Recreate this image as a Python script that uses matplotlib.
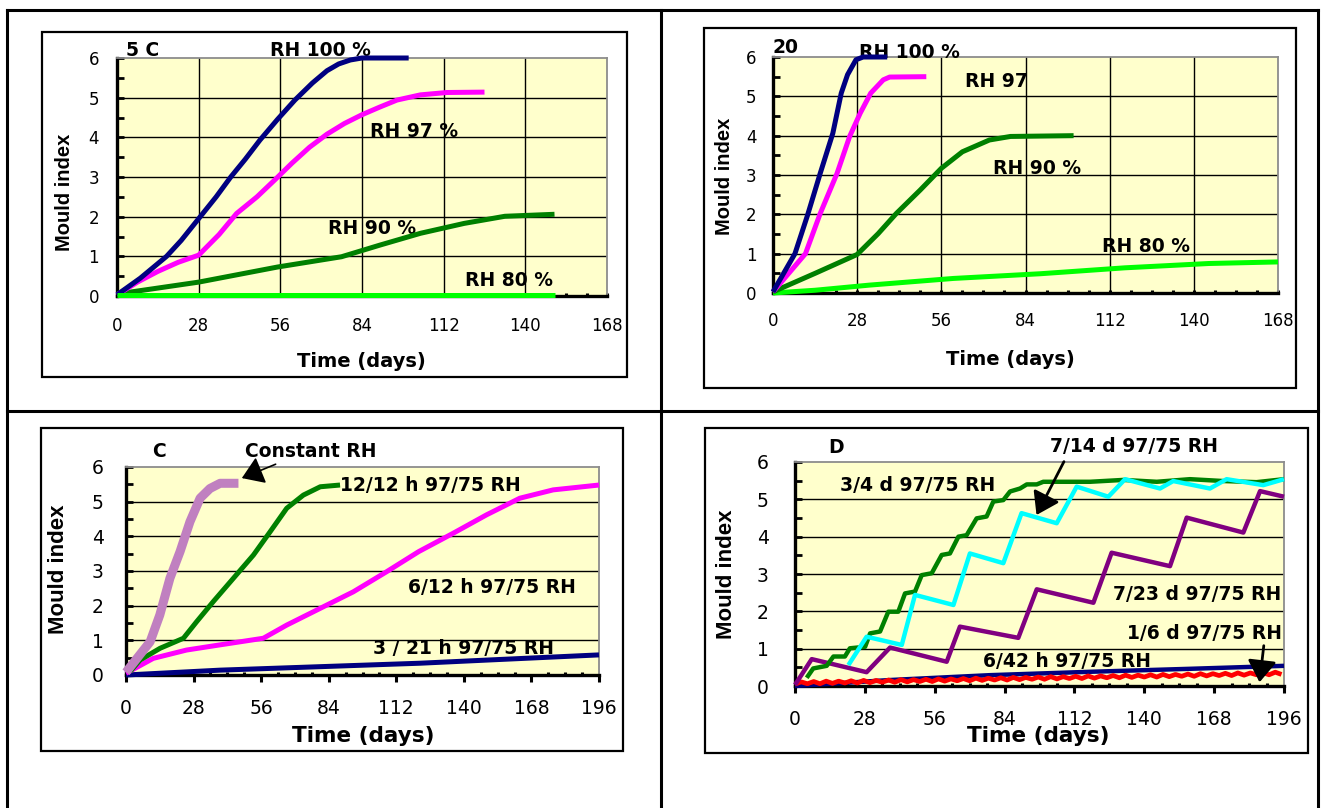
import numpy as np
import matplotlib
matplotlib.use("Agg")
import matplotlib.pyplot as plt
from matplotlib.lines import Line2D
from matplotlib.patches import Rectangle

# --- data (days, mould index) ---
# A : 5 C
a_day_100 = [0, 8, 17, 22, 28, 34, 39, 44, 49, 55, 61, 67, 72, 76, 80, 84, 100]
a_mi_100 = [0.03, 0.45, 1.0, 1.4, 1.95, 2.5, 3.0, 3.45, 3.93, 4.45, 4.94, 5.37, 5.68,
            5.85, 5.95, 6.0, 6.0]
a_day_97 = [0, 7, 14, 21, 28, 35, 41, 48, 54, 60, 66, 72, 78, 84, 90, 96, 104, 113, 126]
a_mi_97 = [0.03, 0.35, 0.62, 0.85, 1.03, 1.55, 2.08, 2.5, 2.92, 3.35, 3.75, 4.08, 4.35,
           4.57, 4.76, 4.94, 5.07, 5.13, 5.14]
a_day_90 = [0, 28, 55, 77, 90, 104, 119, 133, 150]
a_mi_90 = [0.05, 0.35, 0.73, 0.99, 1.28, 1.58, 1.83, 2.01, 2.06]
a_day_80 = [0, 150]
a_mi_80 = [0.03, 0.03]

# B : 20 C
b_day_100 = [0, 7.3, 11.5, 15.7, 19.9, 22.7, 24.8, 27.6, 30, 38]
b_mi_100 = [0.03, 1.0, 1.98, 3.04, 4.06, 5.08, 5.55, 5.93, 6.0, 6.0]
b_day_97 = [0, 10.8, 15.7, 21.3, 25.5, 29, 32.5, 36.7, 38.8, 51]
b_mi_97 = [0.03, 1.0, 2.02, 3.04, 3.98, 4.57, 5.08, 5.42, 5.49, 5.5]
b_day_90 = [0, 14, 28, 35, 41, 49, 56, 63, 72, 79, 100]
b_mi_90 = [0.03, 0.5, 0.98, 1.51, 2.02, 2.62, 3.17, 3.59, 3.89, 3.98, 4.0]
b_day_80 = [0, 14, 32, 60, 89, 117, 145, 168]
b_mi_80 = [0.0, 0.07, 0.2, 0.37, 0.49, 0.64, 0.75, 0.79]

# C : cyclic hours
c_day_const = [0, 10, 14, 18.2, 22.4, 26.5, 30.7, 34.8, 39, 46.6]
c_mi_const = [0.08, 0.96, 1.73, 2.79, 3.56, 4.42, 5.1, 5.38, 5.53, 5.53]
c_day_12 = [1.7, 5.8, 14.1, 23.8, 29.3, 36.2, 44.5, 52.8, 59.7, 66.6, 73.5, 80.5, 88.7]
c_mi_12 = [0.1, 0.43, 0.77, 1.06, 1.54, 2.12, 2.79, 3.46, 4.13, 4.81, 5.19, 5.43, 5.48]
c_day_6 = [0, 11.3, 25.1, 39, 56.9, 66.6, 80.4, 94.2, 108, 121.3, 135.6, 149.4, 163.2, 177, 196]
c_mi_6 = [0.05, 0.48, 0.72, 0.87, 1.06, 1.44, 1.92, 2.4, 2.98, 3.56, 4.09, 4.62, 5.1, 5.34, 5.48]
c_day_3 = [0, 39, 80.4, 121.9, 149.4, 196]
c_mi_3 = [0.0, 0.14, 0.24, 0.34, 0.43, 0.58]

# D : cyclic days
d_day_34 = [4.7, 7.3, 12.7, 15.4, 20.0, 22.0, 28.1, 30.1, 34.1, 37.4, 41.4, 44.1, 48.1,
            50.8, 54.8, 58.8, 62.1, 65.5, 68.8, 72.8, 76.8, 79.5, 83.5, 86.2, 90.2,
            92.9, 96.9, 99.5, 118.2, 131.6, 145, 158.3, 171.7, 185, 196]
d_mi_34 = [0.22, 0.47, 0.54, 0.79, 0.79, 1.01, 1.05, 1.41, 1.46, 1.99, 1.99, 2.48, 2.53,
           2.97, 3.02, 3.51, 3.55, 4.0, 4.04, 4.49, 4.54, 4.94, 4.98, 5.21, 5.29,
           5.4, 5.4, 5.47, 5.47, 5.52, 5.47, 5.54, 5.49, 5.46, 5.54]
d_day_714 = [21.4, 28.7, 42.8, 48.1, 63.5, 70.1, 83.5, 90.8, 104.9, 112.9, 125.6,
             132.3, 146.3, 151.6, 166.3, 173, 187.7, 196]
d_mi_714 = [0.56, 1.32, 1.1, 2.44, 2.17, 3.55, 3.29, 4.63, 4.36, 5.34, 5.07,
            5.54, 5.29, 5.49, 5.29, 5.54, 5.38, 5.54]
d_day_723 = [0, 6.7, 28.7, 38.1, 60.8, 66.1, 89.5, 96.9, 119.6, 126.9, 150.3, 157,
             179.7, 186.4, 196]
d_mi_723 = [0.03, 0.72, 0.37, 1.03, 0.65, 1.59, 1.29, 2.59, 2.23, 3.57, 3.21, 4.51,
            4.11, 5.22, 5.07]
d_day_16 = [0, 38, 78, 118, 158, 196]
d_mi_16 = [0.0, 0.16, 0.29, 0.38, 0.46, 0.54]
d_mi_642 = [0.05, 0.11, 0.06, 0.12, 0.06, 0.13, 0.07, 0.13, 0.08, 0.14, 0.08, 0.15,
            0.09, 0.15, 0.10, 0.16, 0.10, 0.17, 0.11, 0.17, 0.12, 0.18, 0.12, 0.19,
            0.13, 0.19, 0.14, 0.20, 0.14, 0.21, 0.15, 0.21, 0.16, 0.22, 0.16, 0.23,
            0.17, 0.23, 0.18, 0.24, 0.18, 0.25, 0.19, 0.25, 0.20, 0.26, 0.20, 0.27,
            0.21, 0.27, 0.22, 0.28, 0.22, 0.29, 0.23, 0.29, 0.24, 0.30, 0.24, 0.31,
            0.25, 0.31, 0.26, 0.32, 0.26, 0.33, 0.27, 0.33, 0.28, 0.34, 0.28, 0.35,
            0.29, 0.35, 0.30, 0.36, 0.30, 0.37, 0.31]
d_day_642 = np.arange(len(d_mi_642)) * 2.5

NAVY = "#000080"
MAGENTA = "#FF00FF"
DKGREEN = "#008000"
LIME = "#00FF00"
CYAN = "#00FFFF"
PURPLE = "#800080"
RED = "#FF0000"
ORCHID = "#C080C0"

W, H = 1321, 808
fig = plt.figure(figsize=(W / 100, H / 100), dpi=100)
fig.patch.set_facecolor("white")


def px_rect(l, t, r, b):
    return [l / W, 1 - b / H, (r - l) / W, (b - t) / H]


def px(x, y):
    return x / W, 1 - y / H


def fig_line(x0, y0, x1, y1, lw=2.2):
    fig.add_artist(Line2D([x0 / W, x1 / W], [1 - y0 / H, 1 - y1 / H],
                          transform=fig.transFigure, color="black", lw=lw))


def fig_box(l, t, r, b):
    fig.add_artist(Rectangle((l / W, 1 - b / H), (r - l) / W, (b - t) / H,
                             transform=fig.transFigure, fill=False,
                             edgecolor="black", lw=1.6))


# table frame around the panels
fig_line(7, 10, 1318, 10)
fig_line(7, 10, 7, 808)
fig_line(1318, 10, 1318, 808)
fig_line(661, 10, 661, 808)
fig_line(7, 411, 1318, 411)

fig_box(42, 32, 627, 377)
fig_box(704, 28, 1296, 388)
fig_box(41, 428, 623, 751)
fig_box(705, 428, 1308, 753)


def setup(ax, xmax, vgrid, big, xpad, ypad, xlab_px, ylab_px):
    ax.set_facecolor("#FFFFCC")
    ax.set_xlim(0, xmax)
    ax.set_ylim(0, 6)
    ax.set_xticks(np.arange(0, xmax + 1, 28))
    ax.set_xticks(np.arange(0, xmax + 1, 7), minor=True)
    ax.set_yticks(np.arange(0, 7, 1))
    ax.set_yticks(np.arange(0, 6.01, 0.5), minor=True)
    for y in range(1, 6):
        ax.axhline(y, color="black", lw=1, zorder=1.5)
    if vgrid:
        for x in range(28, xmax, 28):
            ax.axvline(x, color="black", lw=1, zorder=1.5)
    for s in ["left", "bottom"]:
        ax.spines[s].set_color("black")
        ax.spines[s].set_linewidth(2.4)
    for s in ["top", "right"]:
        ax.spines[s].set_color("#8c8c8c")
        ax.spines[s].set_linewidth(1.3)
    size = 13.5 if big else 12
    ax.tick_params(axis="y", which="both", direction="in", length=5, width=2,
                   right=False, labelsize=size, pad=ypad)
    if big:
        ax.tick_params(axis="x", which="major", direction="out", length=5, width=2.2,
                       labelsize=size, pad=xpad)
        ax.tick_params(axis="x", which="minor", direction="in", length=2.5, width=2.2)
    else:
        ax.tick_params(axis="x", which="both", direction="in", length=2.5, width=2.2,
                       labelsize=size, pad=xpad)
    ax.set_xlabel("Time (days)", fontsize=15.5 if big else 14, fontweight="bold")
    ax.set_ylabel("Mould index", fontsize=16 if big else 14.5, fontweight="bold",
                  family=["Liberation Sans", "DejaVu Sans"])
    ax.xaxis.set_label_coords(*px(*xlab_px), transform=fig.transFigure)
    ax.yaxis.set_label_coords(*px(*ylab_px), transform=fig.transFigure)
    ax.xaxis.label.set_va("center")
    ax.yaxis.label.set_va("center")


def curve(ax, x, y, color, lw):
    ax.plot(x, y, color=color, lw=lw, zorder=3, clip_on=False,
            solid_joinstyle="round", solid_capstyle="butt")


def label(ax, x, y, s, size):
    ax.text(x, y, s, fontsize=size, fontweight="bold", ha="center", va="center",
            zorder=2.6)


def arrow(ax, tail, tip, lw):
    ax.annotate("", xy=tip, xytext=tail, annotation_clip=False,
                arrowprops=dict(arrowstyle="-|>,head_length=0.6,head_width=0.4",
                                color="black", lw=lw, shrinkA=0, shrinkB=0,
                                mutation_scale=22))


# --- panel A ---
axA = fig.add_axes(px_rect(117, 58, 607, 296))
setup(axA, 168, True, False, 15, 13, (361.5, 361), (64, 192))
curve(axA, a_day_90, a_mi_90, DKGREEN, 3.6)
curve(axA, a_day_97, a_mi_97, MAGENTA, 3.6)
curve(axA, a_day_100, a_mi_100, NAVY, 3.6)
curve(axA, a_day_80, a_mi_80, LIME, 3.6)
label(axA, 8.9, 6.2, "5 C", 13.5)
label(axA, 69.8, 6.2, "RH 100 %", 13.5)
label(axA, 102, 4.15, "RH 97 %", 13.5)
label(axA, 87.6, 1.70, "RH 90 %", 13.5)
label(axA, 134.4, 0.40, "RH 80 %", 13.5)

# --- panel B ---
axB = fig.add_axes(px_rect(773, 57, 1278, 293))
setup(axB, 168, True, False, 13.5, 12, (1010.5, 360), (725, 176))
curve(axB, b_day_80, b_mi_80, LIME, 3.6)
curve(axB, b_day_90, b_mi_90, DKGREEN, 3.6)
curve(axB, b_day_97, b_mi_97, MAGENTA, 3.6)
curve(axB, b_day_100, b_mi_100, NAVY, 3.6)
label(axB, 4.3, 6.23, "20", 13.5)
label(axB, 45.4, 6.11, "RH 100 %", 13.5)
label(axB, 74.2, 5.38, "RH 97", 13.5)
label(axB, 87.8, 3.17, "RH 90 %", 13.5)
label(axB, 124.2, 1.18, "RH 80 %", 13.5)

# --- panel C ---
axC = fig.add_axes(px_rect(126, 467, 599, 675))
setup(axC, 196, False, True, 12.5, 16, (363, 736), (59, 569.5))
curve(axC, c_day_3, c_mi_3, NAVY, 3.6)
curve(axC, c_day_6, c_mi_6, MAGENTA, 3.6)
curve(axC, c_day_12, c_mi_12, DKGREEN, 3.6)
curve(axC, c_day_const, c_mi_const, ORCHID, 6.5)
label(axC, 13.7, 6.45, "C", 13.5)
label(axC, 76.7, 6.45, "Constant RH", 13.5)
label(axC, 126.2, 5.48, "12/12 h 97/75 RH", 13.5)
label(axC, 151.8, 2.53, "6/12 h 97/75 RH", 13.5)
label(axC, 139.9, 0.77, "3 / 21 h 97/75 RH", 13.5)
arrow(axC, (62, 6.08), (48, 5.68), 1.2)

# --- panel D ---
axD = fig.add_axes(px_rect(795, 462, 1284, 686))
setup(axD, 196, False, True, 12, 19, (1038, 736), (726, 574))
curve(axD, d_day_16, d_mi_16, NAVY, 3.2)
curve(axD, d_day_642, d_mi_642, RED, 3.4)
curve(axD, d_day_723, d_mi_723, PURPLE, 3.2)
curve(axD, d_day_34, d_mi_34, DKGREEN, 3.2)
curve(axD, d_day_714, d_mi_714, CYAN, 3.2)
label(axD, 16.6, 6.39, "D", 13.5)
label(axD, 136, 6.41, "7/14 d 97/75 RH", 13.5)
label(axD, 49.1, 5.38, "3/4 d 97/75 RH", 13.5)
label(axD, 161.3, 2.44, "7/23 d 97/75 RH", 13.5)
label(axD, 164.3, 1.41, "1/6 d 97/75 RH", 13.5)
label(axD, 109, 0.65, "6/42 h 97/75 RH", 13.5)
arrow(axD, (107.8, 6.01), (96.8, 4.58), 2)
arrow(axD, (187.9, 1.08), (186.2, 0.10), 2)

fig.savefig("out.png", dpi=100)
